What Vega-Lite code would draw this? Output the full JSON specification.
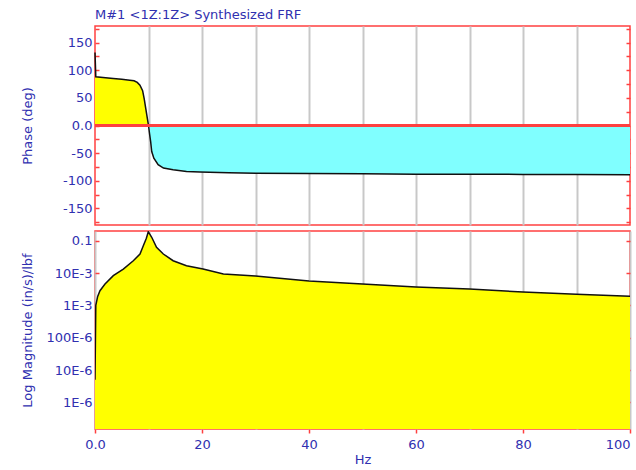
{
  "$schema": "https://vega.github.io/schema/vega-lite/v6.json",
  "autosize": {"type": "pad"},
  "padding": {"left": 20, "top": 8, "right": 6, "bottom": 4},
  "background": "white",
  "spacing": 0,
  "config": {
    "font": "DejaVu Sans",
    "view": {"stroke": "#ff4040", "strokeWidth": 1.5},
    "axis": {
      "labelColor": "#3030b0",
      "titleColor": "#3030b0",
      "labelFont": "DejaVu Sans",
      "titleFont": "DejaVu Sans",
      "labelFontSize": 13,
      "titleFontSize": 13,
      "titleFontWeight": "normal",
      "domain": false,
      "tickColor": "#ff4040",
      "tickWidth": 1.5,
      "gridColor": "#c8c8c8",
      "gridWidth": 2,
      "labelOverlap": false
    }
  },
  "datasets": {
    "phase": [
      {"f": 0, "phase": 132}, {"f": 0.15, "phase": 88}, {"f": 1.5, "phase": 87}, {"f": 3.4, "phase": 85},
      {"f": 5, "phase": 83.5}, {"f": 6.5, "phase": 82}, {"f": 7.3, "phase": 81}, {"f": 7.9, "phase": 78},
      {"f": 8.4, "phase": 73}, {"f": 8.9, "phase": 63}, {"f": 9.2, "phase": 48}, {"f": 9.5, "phase": 30},
      {"f": 9.8, "phase": 12}, {"f": 10, "phase": 0}, {"f": 10.2, "phase": -15}, {"f": 10.4, "phase": -29},
      {"f": 10.6, "phase": -47}, {"f": 11, "phase": -59}, {"f": 11.8, "phase": -71}, {"f": 12.8, "phase": -77},
      {"f": 14.6, "phase": -80}, {"f": 17.1, "phase": -83}, {"f": 19.6, "phase": -84}, {"f": 25, "phase": -85.5},
      {"f": 30, "phase": -86.5}, {"f": 40, "phase": -87}, {"f": 50, "phase": -87.5}, {"f": 60, "phase": -88},
      {"f": 70, "phase": -88}, {"f": 80, "phase": -88.5}, {"f": 90, "phase": -88.5}, {"f": 100, "phase": -89}
    ],
    "mag": [
      {"f": 0, "mag": 5e-6}, {"f": 0.15, "mag": 1e-3}, {"f": 0.5, "mag": 1.9e-3}, {"f": 0.93, "mag": 2.84e-3},
      {"f": 1.87, "mag": 4.6e-3}, {"f": 3.42, "mag": 8.3e-3}, {"f": 5.29, "mag": 0.0133}, {"f": 7.16, "mag": 0.0241},
      {"f": 8.41, "mag": 0.0388}, {"f": 9.03, "mag": 0.0701}, {"f": 9.6, "mag": 0.12}, {"f": 9.96, "mag": 0.19},
      {"f": 10.6, "mag": 0.128}, {"f": 11.5, "mag": 0.0625}, {"f": 12.77, "mag": 0.0388}, {"f": 14.6, "mag": 0.0241},
      {"f": 17.1, "mag": 0.0169}, {"f": 20.2, "mag": 0.0133}, {"f": 24, "mag": 0.0093}, {"f": 30, "mag": 0.0081},
      {"f": 40, "mag": 0.0057}, {"f": 50, "mag": 0.0046}, {"f": 60, "mag": 0.0037}, {"f": 70, "mag": 0.0032},
      {"f": 80, "mag": 0.0026}, {"f": 90, "mag": 0.0022}, {"f": 100, "mag": 0.0019}
    ]
  },
  "vconcat": [
    {
      "width": 535,
      "height": 199,
      "title": {"text": "M#1 <1Z:1Z> Synthesized FRF", "anchor": "start", "frame": "group", "fontSize": 13, "fontWeight": "normal", "color": "#3030b0", "font": "DejaVu Sans", "offset": 1},
      "data": {"name": "phase"},
      "layer": [
        {
          "transform": [{"filter": "datum.phase >= 0"}],
          "mark": {"type": "area", "color": "#ffff00", "opacity": 1},
          "encoding": {
            "x": {"field": "f", "type": "quantitative", "scale": {"domain": [0, 100], "nice": false},
                  "axis": {"values": [10, 20, 30, 40, 50, 60, 70, 80, 90], "grid": true, "labels": false, "ticks": false, "title": null}},
            "y": {"field": "phase", "type": "quantitative", "scale": {"domain": [-180, 180], "nice": false},
                  "axis": {"values": [-175, -150, -125, -100, -75, -50, -25, 0, 25, 50, 75, 100, 125, 150, 175],
                           "labelExpr": "datum.value % 50 == 0 ? (datum.value == 0 ? '0.0' : '' + datum.value) : ''",
                           "tickSize": -4, "labelPadding": 7, "grid": false, "title": "Phase (deg)", "titleX": -61}},
            "y2": {"datum": 0}
          }
        },
        {
          "transform": [{"filter": "datum.phase <= 0"}],
          "mark": {"type": "area", "color": "#80ffff", "opacity": 1},
          "encoding": {
            "x": {"field": "f", "type": "quantitative"},
            "y": {"field": "phase", "type": "quantitative", "axis": null},
            "y2": {"datum": 0}
          }
        },
        {
          "mark": {"type": "line", "color": "#111111", "strokeWidth": 1.5},
          "encoding": {
            "x": {"field": "f", "type": "quantitative"},
            "y": {"field": "phase", "type": "quantitative", "axis": null}
          }
        },
        {
          "mark": {"type": "rule", "color": "#ff4040", "strokeWidth": 1.5},
          "encoding": {
            "y": {"datum": 0, "type": "quantitative",
                  "axis": {"orient": "right", "values": [-175, -150, -125, -100, -75, -50, -25, 0, 25, 50, 75, 100, 125, 150, 175],
                           "labels": false, "tickSize": -4, "grid": false, "title": null}}
          }
        }
      ],
      "resolve": {"axis": {"y": "independent"}}
    },
    {
      "width": 535,
      "height": 198,
      "data": {"name": "mag"},
      "layer": [
        {
          "mark": {"type": "area", "color": "#ffff00", "opacity": 1, "clip": true},
          "encoding": {
            "x": {"field": "f", "type": "quantitative", "scale": {"domain": [0, 100], "nice": false},
                  "axis": {"values": [0, 10, 20, 30, 40, 50, 60, 70, 80, 90, 100], "grid": true,
                           "labelExpr": "datum.value % 20 == 0 ? (datum.value == 0 ? '0.0' : '' + datum.value) : ''",
                           "tickOpacity": {"condition": {"test": "datum.value % 20 == 0", "value": 1}, "value": 0},
                           "labelAlign": {"condition": {"test": "datum.value == 100", "value": "right"}, "value": "center"},
                           "tickSize": 4, "labelPadding": 5, "title": "Hz", "titlePadding": 2}},
            "y": {"field": "mag", "type": "quantitative", "scale": {"type": "log", "domain": [1.5e-7, 0.2], "nice": false},
                  "axis": {"values": [1e-6, 1e-5, 1e-4, 1e-3, 1e-2, 1e-1],
                           "labelExpr": "datum.value > 0.05 ? '0.1' : datum.value > 0.005 ? '10E-3' : datum.value > 0.0005 ? '1E-3' : datum.value > 0.00005 ? '100E-6' : datum.value > 0.000005 ? '10E-6' : '1E-6'",
                           "tickSize": -4, "labelPadding": 7, "grid": false, "title": "Log Magnitude (in/s)/lbf", "titleX": -61}},
            "y2": {"datum": 1.5e-7}
          }
        },
        {
          "mark": {"type": "line", "color": "#111111", "strokeWidth": 1.5, "clip": true},
          "encoding": {
            "x": {"field": "f", "type": "quantitative"},
            "y": {"field": "mag", "type": "quantitative",
                  "axis": {"orient": "right", "values": [1e-6, 1e-5, 1e-4, 1e-3, 1e-2, 1e-1], "labels": false, "tickSize": -4, "grid": false, "title": null}}
          }
        }
      ],
      "resolve": {"axis": {"y": "independent"}}
    }
  ]
}
